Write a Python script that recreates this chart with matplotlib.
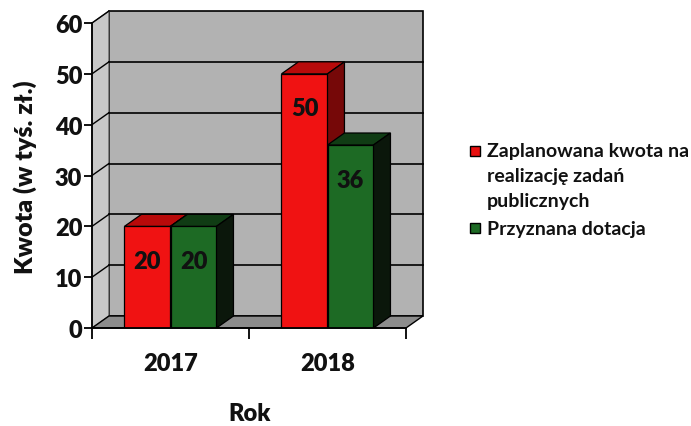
import numpy as np
import matplotlib.pyplot as plt
from matplotlib.patches import Polygon, Rectangle

# data
years = ["2017", "2018"]
planned = [20, 50]
granted = [20, 36]
series_names = ["Zaplanowana kwota na\nrealizację zadań\npublicznych", "Przyznana dotacja"]
y_ticks = [0, 10, 20, 30, 40, 50, 60]

plt.rcParams['font.family'] = ['Lato', 'DejaVu Sans']
WEIGHT = "heavy"

FW, FH = 691, 427
fig = plt.figure(figsize=(FW / 100, FH / 100), dpi=100)
ax = fig.add_axes([92 / FW, 98 / FH, 314 / FW, 305 / FH])
ax.set_facecolor("none")
ax.set_xlim(-0.5, 1.5)
ax.set_ylim(0, 60)

# 3d depth offset in data units
W = 0.293
DX = 0.108
DY = 2.36
X0, X1 = -0.5, 1.5
YMAX = y_ticks[-1]

# walls and floor
ax.add_patch(Polygon([(X0 + DX, DY), (X1 + DX, DY), (X1 + DX, YMAX + DY), (X0 + DX, YMAX + DY)],
                     fc="#b2b2b2", ec="black", lw=1.2, clip_on=False, zorder=0))
ax.add_patch(Polygon([(X0, 0), (X0 + DX, DY), (X0 + DX, YMAX + DY), (X0, YMAX)],
                     fc="#c8c8c8", ec="#555555", lw=0.8, clip_on=False, zorder=0))
ax.add_patch(Polygon([(X0, 0), (X1, 0), (X1 + DX, DY), (X0 + DX, DY)],
                     fc="#8c8c8c", ec="black", lw=1.0, clip_on=False, zorder=0))
for v in y_ticks[1:-1]:
    ax.plot([X0 + DX, X1 + DX], [v + DY, v + DY], color="black", lw=1.2, clip_on=False, zorder=0.5)
for v in y_ticks[1:]:
    ax.plot([X0, X0 + DX], [v, v + DY], color="black", lw=1.0, clip_on=False, zorder=0.5)


def bar3d(x0, v, front, top, side):
    ax.bar(x0, v, W, align="edge", color=front, edgecolor="black", lw=0.9, zorder=3)
    ax.add_patch(Polygon([(x0, v), (x0 + DX, v + DY), (x0 + W + DX, v + DY), (x0 + W, v)],
                         fc=top, ec="black", lw=0.9, zorder=3))
    ax.add_patch(Polygon([(x0 + W, 0), (x0 + W + DX, DY), (x0 + W + DX, v + DY), (x0 + W, v)],
                         fc=side, ec="black", lw=0.9, zorder=3))
    ax.text(x0 + W / 2, v - 6.8, str(v), ha="center", va="center",
            fontsize=17, fontweight=WEIGHT, color="#111111", zorder=5)


x = np.arange(len(years))
for i in range(len(years)):
    bar3d(x[i] - W, planned[i], "#f01212", "#b80a0a", "#760808")
    bar3d(x[i], granted[i], "#1d6a24", "#103c14", "#0b170b")

# axes
for s in ["top", "right"]:
    ax.spines[s].set_visible(False)
ax.spines["left"].set_linewidth(1.3)
ax.spines["bottom"].set_linewidth(1.3)
ax.spines["left"].set_zorder(4)
ax.spines["bottom"].set_zorder(4)

ax.set_yticks(y_ticks)
ax.tick_params(axis="y", length=6, width=1.3, pad=1, labelsize=17)
ax.set_xticks(x, years)
ax.set_xticks([-0.5, 0.5, 1.5], minor=True)
ax.tick_params(axis="x", which="major", length=0, pad=17, labelsize=17)
ax.tick_params(axis="x", which="minor", length=8, width=1.3)
for lbl in ax.get_yticklabels() + ax.get_xticklabels():
    lbl.set_fontweight(WEIGHT)
    lbl.set_color("#111111")


def px(xp, yp):
    return xp / FW, 1 - yp / FH


fig.text(*px(25, 177), "Kwota (w tyś. zł.)", rotation=90, ha="center", va="center",
         fontsize=18, fontweight=WEIGHT, color="#111111")
fig.text(*px(250, 414), "Rok", ha="center", va="center",
         fontsize=17, fontweight=WEIGHT, color="#111111")

# legend
legend_colors = ["#e81010", "#1d6a24"]
legend_y = [152, 229]
for name, col, y0 in zip(series_names, legend_colors, legend_y):
    fig.add_artist(Rectangle(px(470, y0 + 5), 10 / FW, 10 / FH, transform=fig.transFigure,
                             fc=col, ec="black", lw=1.0))
    for j, line in enumerate(name.split("\n")):
        fig.text(*px(487, y0 + 25 * j), line, ha="left", va="center",
                 fontsize=14, fontweight="bold", color="#111111")

fig.savefig("out.png", dpi=100)
